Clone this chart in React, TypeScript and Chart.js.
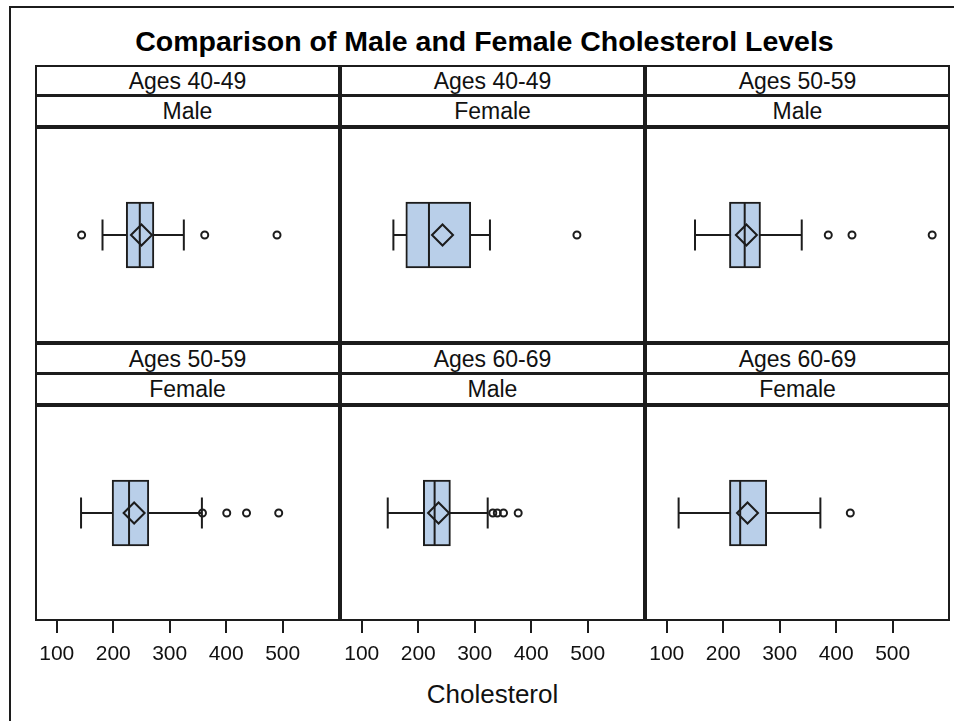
import React, { useEffect, useRef } from 'react';
import { Chart, registerables } from 'chart.js';

Chart.register(...registerables);

// ---- data ----
const AGE_GROUPS = ['Ages 40-49', 'Ages 40-49', 'Ages 50-59', 'Ages 50-59', 'Ages 60-69', 'Ages 60-69'];
const SEXES = ['Male', 'Female', 'Male', 'Female', 'Male', 'Female'];
const WHISKER_LOW = [181, 156, 150, 143, 146, 121];
const Q1 = [223, 178, 211, 198, 209, 211];
const MEDIAN = [247, 219, 238, 228, 229, 230];
const MEAN = [250, 243, 241, 237, 236, 243];
const Q3 = [272, 293, 266, 263, 257, 277];
const WHISKER_HIGH = [325, 327, 339, 357, 323, 372];
const OUTLIERS = [
  [144, 362, 490],
  [481],
  [386, 428, 570],
  [358, 401, 436, 493],
  [332, 340, 351, 377],
  [425],
];
const TICK_VALUES = [100, 200, 300, 400, 500];
const AXIS_MIN = 65;
const AXIS_MAX = 598;
const CATEGORY = ['Cholesterol'];
const TITLE = 'Comparison of Male and Female Cholesterol Levels';
const X_LABEL = 'Cholesterol';

// ---- layout ----
const FONT = '"Liberation Sans", Arial, Helvetica, sans-serif';
const GRID_LEFT = 35;
const COL_W = 305;
const GRID_TOP = 65;
const HEAD_H = 31;
const PLOT_H = 216;
const BORDER = 2;
const AXIS_H = 60;
const LINE = '#1c1c1c';
const BOX_FILL = '#B9CFE9';

function Panel({ index, left, top, showAxis }: { index: number; left: number; top: number; showAxis: boolean }) {
  const ref = useRef<HTMLCanvasElement>(null);
  const w = COL_W - 2 * BORDER;
  const innerH = PLOT_H - 2 * BORDER;
  const h = innerH + (showAxis ? AXIS_H : 0);

  useEffect(() => {
    const y = CATEGORY[0];
    const chart = new Chart(ref.current as HTMLCanvasElement, {
      type: 'bar',
      data: {
        labels: CATEGORY,
        datasets: [
          {
            type: 'scatter',
            label: 'Outliers',
            data: OUTLIERS[index].map((v) => ({ x: v, y })),
            pointStyle: 'circle',
            pointRadius: 3.5,
            pointBorderWidth: 2,
            pointBorderColor: LINE,
            pointBackgroundColor: 'rgba(255,255,255,0)',
            order: 0,
          } as any,
          {
            type: 'scatter',
            label: 'Mean',
            data: [{ x: MEAN[index], y }],
            pointStyle: 'rectRot',
            pointRadius: 10.5,
            pointBorderWidth: 2,
            pointBorderColor: LINE,
            pointBackgroundColor: 'rgba(255,255,255,0)',
            order: 1,
          } as any,
          {
            type: 'scatter',
            label: 'Median',
            data: [{ x: MEDIAN[index], y }],
            pointStyle: 'line',
            pointRotation: 90,
            pointRadius: 32,
            pointBorderWidth: 2,
            pointBorderColor: LINE,
            order: 2,
          } as any,
          {
            type: 'bar',
            label: 'Box',
            data: [[Q1[index], Q3[index]]],
            backgroundColor: BOX_FILL,
            borderColor: LINE,
            borderWidth: 2,
            borderSkipped: false,
            barThickness: 66,
            order: 3,
          } as any,
          {
            type: 'line',
            label: 'Whiskers',
            data: [
              { x: WHISKER_LOW[index], y },
              { x: WHISKER_HIGH[index], y },
            ],
            borderColor: LINE,
            borderWidth: 2,
            fill: false,
            pointStyle: 'line',
            pointRotation: 90,
            pointRadius: 15.5,
            pointBorderWidth: 2,
            pointBorderColor: LINE,
            order: 4,
          } as any,
        ],
      },
      options: {
        indexAxis: 'y',
        responsive: false,
        maintainAspectRatio: false,
        animation: false,
        devicePixelRatio: 1,
        events: [],
        layout: { padding: 0, autoPadding: false },
        plugins: {
          legend: { display: false },
          tooltip: { enabled: false },
          title: { display: false },
        },
        scales: {
          x: {
            type: 'linear',
            min: AXIS_MIN,
            max: AXIS_MAX,
            beginAtZero: false,
            display: showAxis,
            afterBuildTicks: (s: any) => {
              s.ticks = TICK_VALUES.map((v) => ({ value: v }));
            },
            afterFit: (s: any) => {
              if (showAxis) s.height = AXIS_H;
              s.paddingLeft = 0;
              s.paddingRight = 0;
            },
            grid: {
              display: true,
              drawOnChartArea: false,
              drawTicks: true,
              tickLength: 14,
              color: LINE,
              lineWidth: 2,
            },
            border: { display: false },
            ticks: {
              color: '#111',
              font: { family: FONT, size: 21 },
              padding: 9,
              maxRotation: 0,
              autoSkip: false,
            },
          },
          y: {
            type: 'category',
            display: false,
            offset: true,
          },
        },
      } as any,
    });
    return () => chart.destroy();
  }, [index, showAxis]);

  return (
    <>
      <div
        style={{
          position: 'absolute',
          left,
          top,
          width: COL_W,
          height: PLOT_H,
          boxSizing: 'border-box',
          border: `${BORDER}px solid ${LINE}`,
          background: '#fff',
        }}
      />
      <canvas
        ref={ref}
        width={w}
        height={h}
        style={{ position: 'absolute', left: left + BORDER, top: top + BORDER, width: w, height: h }}
      />
    </>
  );
}

function Header({ text, left, top, height }: { text: string; left: number; top: number; height: number }) {
  return (
    <div
      style={{
        position: 'absolute',
        left,
        top,
        width: COL_W,
        height,
        boxSizing: 'border-box',
        border: `${BORDER}px solid ${LINE}`,
        display: 'flex',
        alignItems: 'center',
        justifyContent: 'center',
        fontFamily: FONT,
        fontSize: 23,
        lineHeight: '23px',
        paddingTop: 1,
        color: '#111',
        background: '#fff',
      }}
    >
      {text}
    </div>
  );
}

export default function App() {
  const panels = AGE_GROUPS.map((age, i) => {
    const row = Math.floor(i / 3);
    const col = i % 3;
    const rowTop = GRID_TOP + row * (2 * HEAD_H + PLOT_H);
    const left = GRID_LEFT + col * COL_W;
    return (
      <React.Fragment key={i}>
        <Header text={age} left={left} top={rowTop} height={HEAD_H} />
        <Header text={SEXES[i]} left={left} top={rowTop + HEAD_H - 1} height={HEAD_H + 1} />
        <Panel index={i} left={left} top={rowTop + 2 * HEAD_H} showAxis={row === 1} />
      </React.Fragment>
    );
  });

  return (
    <div
      style={{
        position: 'fixed',
        left: 0,
        top: 0,
        width: 954,
        height: 721,
        background: '#fff',
        overflow: 'hidden',
        fontFamily: FONT,
      }}
    >
      <div
        style={{
          position: 'absolute',
          left: 9,
          top: 6,
          width: 2000,
          height: 2000,
          borderLeft: `2px solid ${LINE}`,
          borderTop: `2px solid ${LINE}`,
        }}
      />
      <div
        style={{
          position: 'absolute',
          left: GRID_LEFT - 8,
          top: 27,
          width: 3 * COL_W,
          textAlign: 'center',
          fontSize: 28.5,
          lineHeight: '28.5px',
          fontWeight: 'bold',
          color: '#000',
          whiteSpace: 'nowrap',
        }}
      >
        {TITLE}
      </div>
      {panels}
      <div
        style={{
          position: 'absolute',
          left: GRID_LEFT,
          top: 681,
          width: 3 * COL_W,
          textAlign: 'center',
          fontSize: 26,
          lineHeight: '26px',
          color: '#111',
          whiteSpace: 'nowrap',
        }}
      >
        {X_LABEL}
      </div>
    </div>
  );
}
